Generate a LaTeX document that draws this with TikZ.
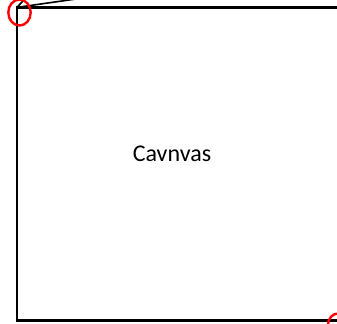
\documentclass[tikz,border=0pt]{standalone}
\usepackage{fontspec}
\setmainfont{Carlito}
\begin{document}
\begin{tikzpicture}[x=1bp,y=-1bp,
  frame/.style={draw=black,line width=2.2bp},
  mark ring/.style={draw=red,line width=2.4bp},
  edge line/.style={draw=black,line width=1.6bp}]
\clip (0,0) rectangle (337,324);
\coordinate (tl) at (16.8,7.4);
\coordinate (tr) at (345,7.4);
\coordinate (bl) at (16.8,320.4);
\coordinate (br) at (345,320.4);
\draw[frame] (tr) -- (tl) -- (bl) -- (br);
\coordinate (e1) at (25,-1);
\coordinate (e2) at (76,-1);
\draw[edge line] (tl) -- (e1);
\draw[edge line] (tl) -- (e2);
\draw[mark ring] (19.5,12.5) ellipse [x radius=11.2,y radius=13];
\draw[mark ring] (338,325) ellipse [x radius=10,y radius=11.5];
\node[font=\fontsize{24bp}{28bp}\selectfont] (canvas) at (172,154) {Cavnvas};
\end{tikzpicture}
\end{document}
